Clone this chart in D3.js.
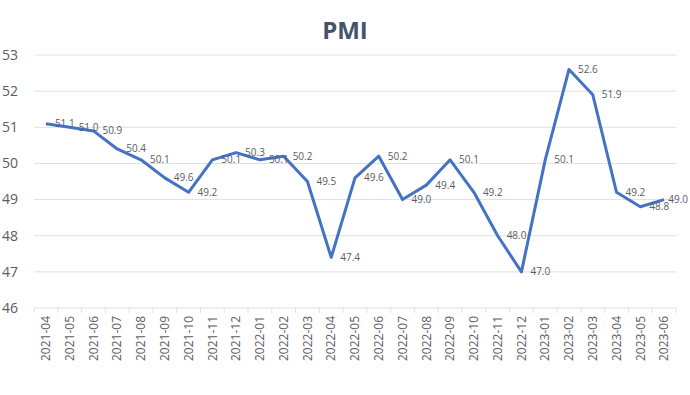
<!DOCTYPE html>
<html>
<head>
<meta charset="utf-8">
<script src="https://cdn.jsdelivr.net/npm/d3@7"></script>
<style>
  body { margin: 0; background: #fff; }
</style>
</head>
<body>
<div id="chart"></div>
<script>
const months = ["2021-04","2021-05","2021-06","2021-07","2021-08","2021-09","2021-10","2021-11","2021-12",
  "2022-01","2022-02","2022-03","2022-04","2022-05","2022-06","2022-07","2022-08","2022-09","2022-10",
  "2022-11","2022-12","2023-01","2023-02","2023-03","2023-04","2023-05","2023-06"];
const pmi = [51.1, 51.0, 50.9, 50.4, 50.1, 49.6, 49.2, 50.1, 50.3, 50.1, 50.2, 49.5, 47.4, 49.6, 50.2,
  49.0, 49.4, 50.1, 49.2, 48.0, 47.0, 50.1, 52.6, 51.9, 49.2, 48.8, 49.0];
const yTicks = [46, 47, 48, 49, 50, 51, 52, 53];

const width = 690, height = 395;
const margin = {top: 55, right: 14, bottom: 87, left: 34};
const font = "Open Sans, Liberation Sans, sans-serif";
const textColor = "#595C66";

const svg = d3.select("#chart").append("svg")
    .attr("width", width)
    .attr("height", height);

const x = d3.scaleBand()
    .domain(months)
    .range([margin.left, width - margin.right]);

const y = d3.scaleLinear()
    .domain([46, 53])
    .range([height - margin.bottom, margin.top]);

// title
svg.append("text")
    .attr("x", width / 2)
    .attr("y", 39)
    .attr("text-anchor", "middle")
    .attr("font-family", font)
    .attr("font-size", 24)
    .attr("font-weight", "bold")
    .attr("fill", "#44546A")
    .text("PMI");

// gridlines
svg.append("g")
  .selectAll("line")
  .data(yTicks.slice(1))
  .join("line")
    .attr("x1", margin.left)
    .attr("x2", width - margin.right)
    .attr("y1", d => y(d))
    .attr("y2", d => y(d))
    .attr("stroke", "#DCE0E8")
    .attr("stroke-width", 1);

// y labels
svg.append("g")
  .selectAll("text")
  .data(yTicks)
  .join("text")
    .attr("x", 2)
    .attr("y", d => y(d))
    .attr("dy", "0.35em")
    .attr("font-family", font)
    .attr("font-size", 14)
    .attr("fill", textColor)
    .text(d => d);

// x axis
const xAxis = svg.append("g")
    .attr("transform", `translate(0,${y(46)})`);
xAxis.append("line")
    .attr("x1", margin.left)
    .attr("x2", width - margin.right)
    .attr("stroke", "#DCE0E8");
xAxis.selectAll(".tick")
  .data(months.concat(["end"]))
  .join("line")
    .attr("class", "tick")
    .attr("x1", (d, i) => margin.left + i * x.step())
    .attr("x2", (d, i) => margin.left + i * x.step())
    .attr("y1", 0)
    .attr("y2", 5)
    .attr("stroke", "#DCE0E8");
xAxis.selectAll(".lbl")
  .data(months)
  .join("text")
    .attr("class", "lbl")
    .attr("transform", d => `translate(${x(d) + x.bandwidth() / 2},8) rotate(-90)`)
    .attr("text-anchor", "end")
    .attr("dy", "0.35em")
    .attr("font-family", font)
    .attr("font-size", 12)
    .attr("fill", textColor)
    .text(d => d);

// line
const line = d3.line()
    .x((d, i) => x(months[i]) + x.bandwidth() / 2)
    .y(d => y(d));

svg.append("path")
    .datum(pmi)
    .attr("fill", "none")
    .attr("stroke", "#4472C4")
    .attr("stroke-width", 3)
    .attr("stroke-linejoin", "round")
    .attr("d", line);

// data labels, pushed back inside the chart when they would run off the edge
const labels = svg.append("g")
  .selectAll("text")
  .data(pmi)
  .join("text")
    .attr("x", (d, i) => x(months[i]) + x.bandwidth() / 2 + 9)
    .attr("y", d => y(d))
    .attr("dy", "0.35em")
    .attr("font-family", font)
    .attr("font-size", 10)
    .attr("fill", textColor)
    .text(d => d.toFixed(1));

labels.each(function() {
  const w = this.getComputedTextLength();
  const lx = +this.getAttribute("x");
  if (lx + w > width - 2) this.setAttribute("x", width - 2 - w);
});
</script>
</body>
</html>
